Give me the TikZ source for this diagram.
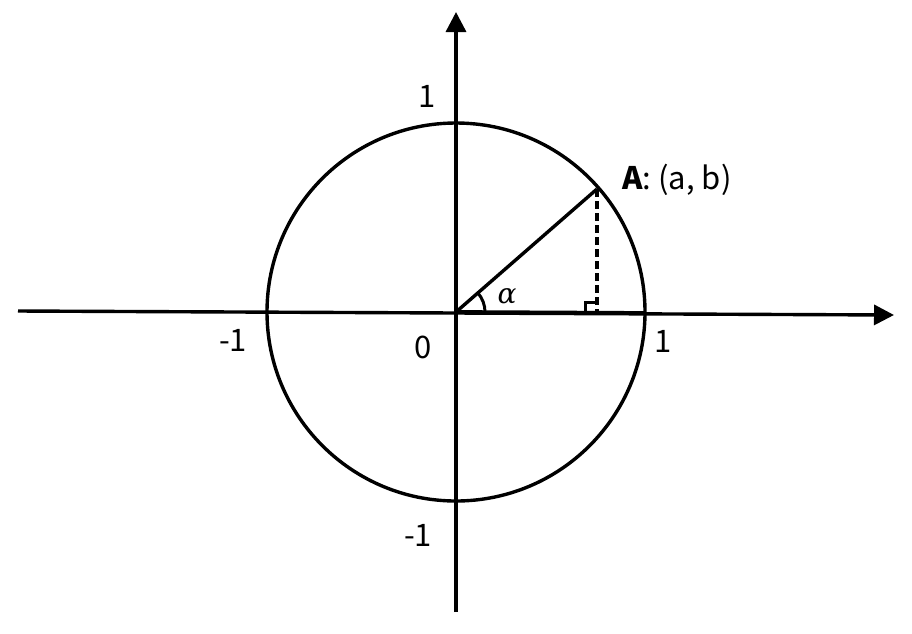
\documentclass[tikz,border=0pt]{standalone}
\usepackage{fontspec}
\setmainfont{Noto Sans CJK SC}
\newfontfamily\grkfont{DejaVu Serif}
\usetikzlibrary{arrows.meta,calc}
\begin{document}
\begin{tikzpicture}[x=1pt,y=-1pt,
  axis/.style={line width=3.4pt,-{Triangle[length=20pt,width=20pt]}},
  thick line/.style={line width=3.4pt},
  lbl/.style={inner sep=0pt,font=\fontsize{31}{34}\selectfont}]
\useasboundingbox (0,0) rectangle (912,633);
\coordinate (O) at (456,312);
\coordinate (XL) at (18,311);
\coordinate (XR) at (894,315);
\coordinate (YB) at (456,612);
\coordinate (YT) at (456,12);
\coordinate (A) at (597,189);
\coordinate (F) at (597,313);
\coordinate (R) at (645,313);
% axes
\draw[axis] (XL) -- (XR);
\draw[axis] (YB) -- (YT);
% circle
\draw[thick line] (O) circle[radius=189];
% radius and base
\draw[thick line] (O) -- (A);
\draw[line width=3.8pt] (O) -- (R);
\draw[thick line,dash pattern=on 8pt off 4pt] (A) -- (F);
% right angle mark
\draw[line width=3pt] ($(F)+(-12,0)$) -- ($(F)+(-12,-11)$) -- ($(F)+(0,-11)$);
% angle arc
\draw[line width=3pt] ($(O)+(29,0)$) arc[start angle=0,end angle=-41.3,radius=29];
% labels
\node[lbl] (t1) at (427,96) {1};
\node[lbl] (lm1) at (233,340) {-1};
\node[lbl] (z) at (423,347) {0};
\node[lbl] (r1) at (663,341) {1};
\node[lbl] (bm1) at (418,535) {-1};
\node[lbl,anchor=west] (Alab) at (622,180) {\textbf{A}: (a, b)};
\node[inner sep=0pt,font=\grkfont\itshape\fontsize{28}{30}\selectfont] (al) at (507,296) {α};
\end{tikzpicture}
\end{document}
